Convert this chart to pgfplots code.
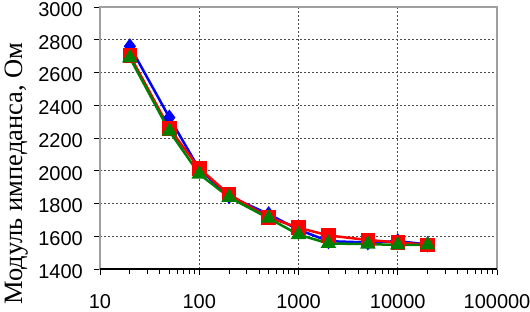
\documentclass[border=0pt]{standalone}
\usepackage{pgfplots}
\pgfplotsset{compat=1.18}
\usepackage{fontspec}
\setmainfont{Liberation Sans}
\newfontfamily\timesfont{Liberation Serif}
\newcommand{\tl}[1]{\fontsize{20bp}{24bp}\selectfont #1}
\begin{document}
\begin{tikzpicture}[x=1bp,y=1bp]
\useasboundingbox (0,0) rectangle (530,311);
\begin{axis}[
  at={(100bp,42bp)}, anchor=south west,
  scale only axis, width=397bp, height=262bp,
  xmode=log, xmin=10, xmax=100000, ymin=1400, ymax=3000,
  xtick={10,100,1000,10000,100000},
  xticklabels={\tl{10},\tl{100},\tl{1000},\tl{10000},\tl{100000}},
  ytick={1400,1600,...,3000},
  yticklabels={\tl{1400},\tl{1600},\tl{1800},\tl{2000},\tl{2200},\tl{2400},\tl{2600},\tl{2800},\tl{3000}},
  minor x tick num=8,
  tick label style={black, inner sep=0pt},
  xticklabel style={anchor=north, yshift=-19bp},
  yticklabel style={anchor=east, xshift=-11bp, yshift=-2.5bp},
  xtick pos=bottom, ytick pos=left,
  tick align=outside,
  major tick length=6bp, minor tick length=5bp,
  tick style={black, line width=0.8bp},
  xmajorgrids, ymajorgrids,
  grid style={dash pattern=on 2bp off 2bp, black!70, line width=0.6bp},
  axis line style={gray!75, line width=1.5bp},
  clip=false,
]
\addplot[blue, line width=2.5bp, mark=diamond*, mark size=6bp, mark options={solid}] coordinates {
(20,2760) (50,2325) (100,2010) (200,1845) (500,1735) (1000,1640) (2000,1570) (5000,1562) (10000,1570) (20000,1550)};
\addplot[red, line width=2.5bp, mark=square*, mark size=6bp] coordinates {
(20,2704) (50,2258) (100,2015) (200,1855) (500,1715) (1000,1652) (2000,1605) (5000,1577) (10000,1562) (20000,1548)};
\addplot[black!50!green, line width=2.5bp, mark=triangle*, mark size=6.5bp] coordinates {
(20,2690) (50,2242) (100,1980) (200,1838) (500,1710) (1000,1610) (2000,1556) (5000,1552) (10000,1547) (20000,1547)};
\draw[black, line width=1.2bp] (rel axis cs:0,0) -- (rel axis cs:1,0);
\end{axis}
\node[rotate=90, anchor=base, inner sep=0pt] at (22bp,137.5bp) {\timesfont\fontsize{26.5bp}{30bp}\selectfont Модуль импеданса, Ом};
\end{tikzpicture}
\end{document}
